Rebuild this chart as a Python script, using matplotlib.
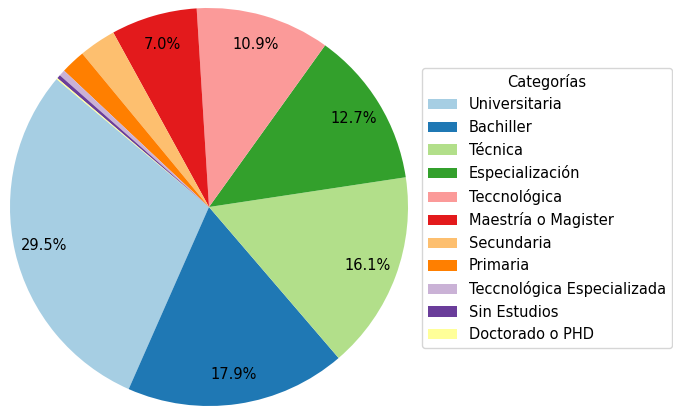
import numpy as np
import matplotlib.pyplot as plt

categorias = ['Universitaria', 'Bachiller', 'Técnica', 'Especialización',
              'Teccnológica', 'Maestría o Magister', 'Secundaria', 'Primaria',
              'Teccnológica Especializada', 'Sin Estudios', 'Doctorado o PHD']
porcentajes = [29.5, 17.9, 16.1, 12.7, 10.9, 7.0, 3.0, 2.0, 0.5, 0.3, 0.1]

colors = plt.cm.Paired(np.arange(len(categorias)))


def autopct(pct):
    return '%.1f%%' % pct if pct > 5 else ''


fig = plt.figure(figsize=(6.73, 4.09), dpi=100)
ax = fig.add_axes([10 / 673, 3 / 409, 398 / 673, 398 / 409])
wedges, texts, autotexts = ax.pie(porcentajes, colors=colors, startangle=140,
                                  autopct=autopct, pctdistance=0.85,
                                  textprops={'fontsize': 10.5})
ax.set_xlim(-1, 1)
ax.set_ylim(-1, 1)
ax.set_aspect('equal')

ax.legend(wedges, categorias, title='Categorías', loc='upper left',
          bbox_to_anchor=(422 / 673, 1 - 68 / 409), borderaxespad=0,
          bbox_transform=fig.transFigure, fontsize=10.5, title_fontsize=10.5,
          labelspacing=0.52)

fig.savefig('out.png', dpi=100)
